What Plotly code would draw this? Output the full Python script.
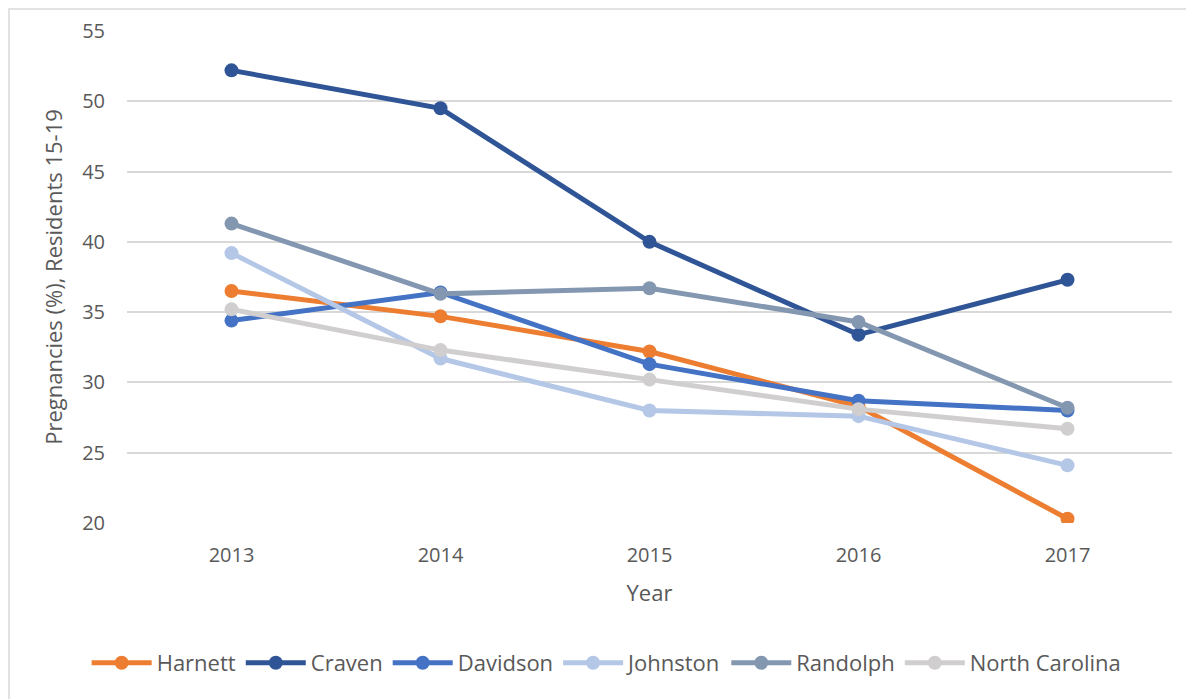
import plotly.graph_objects as go

years = ["2013", "2014", "2015", "2016", "2017"]
harnett = [36.5, 34.7, 32.2, 28.3, 20.3]
craven = [52.2, 49.5, 40.0, 33.4, 37.3]
davidson = [34.4, 36.4, 31.3, 28.7, 28.0]
johnston = [39.2, 31.7, 28.0, 27.6, 24.1]
randolph = [41.3, 36.3, 36.7, 34.3, 28.2]
north_carolina = [35.2, 32.3, 30.2, 28.1, 26.7]

series = [
    ("Harnett", harnett, "#ED7D31"),
    ("Craven", craven, "#2F5597"),
    ("Davidson", davidson, "#4472C4"),
    ("Johnston", johnston, "#B4C7E7"),
    ("Randolph", randolph, "#8497B0"),
    ("North Carolina", north_carolina, "#D0CECE"),
]

fig = go.Figure()
for name, vals, color in series:
    fig.add_trace(go.Scatter(
        x=years, y=vals, name=name, mode="lines+markers",
        line=dict(color=color, width=5),
        marker=dict(color=color, size=14),
    ))

font_family = "'Open Sans', 'Liberation Sans', sans-serif"
# page body has an 8px default margin; compensate
W, H = 1186, 691
L, T = 119, 23
PW, PH = 1045, 492
fig.update_layout(
    width=W, height=H,
    margin=dict(l=L, r=W - L - PW, t=T, b=H - T - PH, autoexpand=False),
    paper_bgcolor="white", plot_bgcolor="white",
    font=dict(family=font_family, color="#595959", size=20),
    showlegend=True,
    legend=dict(orientation="h", x=0.459, xanchor="center", y=-0.2846, yanchor="middle",
                font=dict(size=22, color="#595959"), itemwidth=60, tracegroupgap=0),
    xaxis=dict(type="category", showgrid=False, zeroline=False, showline=False,
               ticks="", tickfont=dict(size=20), ticklabelstandoff=18,
               title=dict(text="Year", font=dict(size=22), standoff=18),
               range=[-0.5, 4.5]),
    yaxis=dict(range=[20, 55], dtick=5, showgrid=True, gridcolor="#D9D9D9", gridwidth=1.5,
               zeroline=False, showline=False, ticks="", tickfont=dict(size=20), ticklabelstandoff=21,
               title=dict(text="Pregnancies (%), Residents 15-19", font=dict(size=22), standoff=13)),
    shapes=[dict(type="rect", xref="paper", yref="paper",
                 x0=(1 - L) / PW, x1=(1180 - L) / PW, y0=-0.42, y1=(PH + T - 1) / PH,
                 line=dict(color="#D9D9D9", width=1.5), fillcolor="rgba(0,0,0,0)", layer="below")],
)
fig.write_html("out.html")
